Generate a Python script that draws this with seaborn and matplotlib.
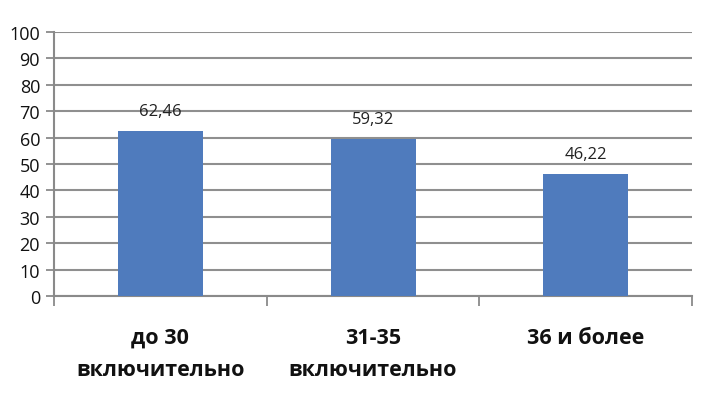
import matplotlib
matplotlib.use("Agg")
import matplotlib.pyplot as plt
import seaborn as sns
import pandas as pd

# Data
categories = ["до 30\nвключительно", "31-35\nвключительно", "36 и более"]
values = [62.46, 59.32, 46.22]
labels = ["62,46", "59,32", "46,22"]

df = pd.DataFrame({"group": categories, "value": values})

sns.set_style("white")
plt.rcParams["font.family"] = ["Open Sans", "DejaVu Sans"]

fig = plt.figure(figsize=(7.15, 4.10), dpi=100)
ax = fig.add_axes([0.0755, 0.2756, 0.8925, 0.644])

sns.barplot(data=df, x="group", y="value", color="#4F7BBD", saturation=1,
            width=0.4, linewidth=0, ax=ax, zorder=3)

for i, (v, t) in enumerate(zip(values, labels)):
    ax.text(i, v + 4.5, t, ha="center", va="bottom", fontsize=12, color="#222222")

ax.set_ylim(0, 100)
ax.set_xlim(-0.5, 2.5)
ax.set_yticks(range(0, 101, 10))
ax.yaxis.grid(True, color="#8f8f8f", linewidth=1.5, zorder=0)
ax.set_axisbelow(True)

for s in ["top", "right"]:
    ax.spines[s].set_visible(False)
for s in ["left", "bottom"]:
    ax.spines[s].set_color("#8a8a8a")
    ax.spines[s].set_linewidth(1.5)

ax.tick_params(axis="y", length=6, color="#8a8a8a", width=1.3, labelsize=13,
               labelcolor="#111111", pad=4, left=True)
ax.set_xticks([-0.5, 0.5, 1.5, 2.5], minor=True)
ax.tick_params(axis="x", which="minor", length=7, color="#8a8a8a", width=1.3, bottom=True)
ax.tick_params(axis="x", which="major", length=0, pad=22)
for lab in ax.get_xticklabels():
    lab.set_fontsize(15.5)
    lab.set_fontweight("bold")
    lab.set_linespacing(1.7)
    lab.set_color("#111111")

ax.set_xlabel("")
ax.set_ylabel("")

fig.savefig("out.png", dpi=100)
